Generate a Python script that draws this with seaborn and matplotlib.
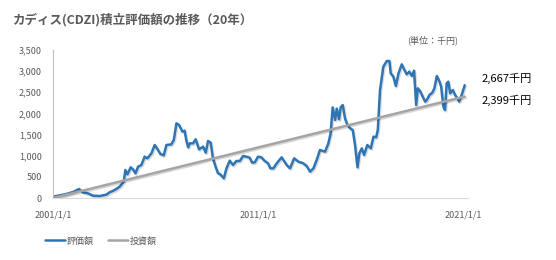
import numpy as np
import pandas as pd
import matplotlib
matplotlib.use("Agg")
import matplotlib.pyplot as plt
import matplotlib.patheffects as pe
import seaborn as sns
from matplotlib.lines import Line2D

# ---- data ----
title = "カディス(CDZI)積立評価額の推移（20年）"
unit_label = "(単位：千円)"
series_names = ["評価額", "投資額"]

value_years = [
    2001.00, 2001.33, 2001.65, 2001.98, 2002.27, 2002.46, 2002.71, 2002.95, 2003.28, 2003.60,
    2003.76, 2004.01, 2004.25, 2004.45, 2004.53, 2004.63, 2004.79, 2004.90, 2005.02, 2005.15,
    2005.31, 2005.47, 2005.60, 2005.80, 2005.96, 2006.07, 2006.24, 2006.40, 2006.53, 2006.77,
    2006.89, 2007.02, 2007.15, 2007.31, 2007.42, 2007.50, 2007.59, 2007.67, 2007.83, 2007.96,
    2008.12, 2008.20, 2008.32, 2008.45, 2008.56, 2008.69, 2008.80, 2008.93, 2009.05, 2009.16,
    2009.33, 2009.46, 2009.62, 2009.78, 2009.94, 2010.11, 2010.27, 2010.43, 2010.59, 2010.71,
    2010.84, 2011.00, 2011.16, 2011.33, 2011.49, 2011.60, 2011.75, 2011.91, 2012.15, 2012.40,
    2012.56, 2012.76, 2012.97, 2013.21, 2013.37, 2013.54, 2013.70, 2013.86, 2014.02, 2014.27,
    2014.43, 2014.54, 2014.64, 2014.76, 2014.84, 2014.95, 2015.03, 2015.13, 2015.24, 2015.36,
    2015.49, 2015.62, 2015.73, 2015.85, 2015.94, 2016.06, 2016.17, 2016.33, 2016.50, 2016.63,
    2016.76, 2016.84, 2016.95, 2017.11, 2017.28, 2017.41, 2017.47, 2017.60, 2017.72, 2017.85,
    2018.01, 2018.14, 2018.25, 2018.38, 2018.50, 2018.61, 2018.71, 2018.79, 2018.90, 2019.03,
    2019.15, 2019.23, 2019.36, 2019.50, 2019.60, 2019.72, 2019.85, 2019.93, 2020.04, 2020.12,
    2020.20, 2020.28, 2020.37, 2020.50, 2020.61, 2020.72, 2020.81, 2020.93, 2021.08,
]
values = [
    30, 63, 95, 142, 213, 134, 110, 55, 47, 79,
    134, 189, 268, 386, 662, 560, 725, 678, 583, 741,
    780, 978, 938, 1056, 1253, 1175, 1041, 1009, 1253, 1269,
    1372, 1766, 1726, 1569, 1592, 1372, 1198, 1293, 1293, 1388,
    1151, 1175, 1214, 1072, 1348, 1309, 938, 741, 583, 560,
    465, 702, 883, 780, 875, 875, 993, 978, 954, 836,
    844, 978, 962, 875, 820, 702, 702, 820, 962, 780,
    702, 938, 859, 820, 757, 623, 702, 899, 1135, 1096,
    1293, 1529, 2144, 1845, 2113, 1860, 2144, 2199, 1884, 1726,
    1648, 1608, 1253, 725, 1056, 1175, 1017, 1253, 1175, 1451,
    1435, 1608, 2554, 3106, 3240, 3240, 2948, 2870, 2649, 2948,
    3161, 3027, 2925, 2988, 2885, 3011, 2199, 2594, 2531, 2397,
    2278, 2318, 2436, 2491, 2594, 2885, 2751, 2633, 2160, 2081,
    2712, 2751, 2475, 2554, 2436, 2357, 2278, 2436, 2667,
]
invest_years = [2001.00, 2021.08]
invest_values = [0, 2399]

end_labels = ["2,667千円", "2,399千円"]
x_tick_labels = ["2001/1/1", "2011/1/1", "2021/1/1"]
y_ticks = [0, 500, 1000, 1500, 2000, 2500, 3000, 3500]


def to_date(years):
    years = np.asarray(years, dtype=float)
    base = pd.Timestamp("2001-01-01")
    return base + pd.to_timedelta((years - 2001.0) * 365.25, unit="D")


df_val = pd.DataFrame({"date": to_date(value_years), "value": values})
df_inv = pd.DataFrame({"date": to_date(invest_years), "value": invest_values})

# ---- style ----
sns.set_theme(style="white")
plt.rcParams["font.family"] = ["Noto Sans CJK JP", "DejaVu Sans"]

BLUE = "#2E75B6"
GRAY = "#A5A5A5"
TXT = "#595959"

fig = plt.figure(figsize=(5.56, 2.60), dpi=100)
ax = fig.add_axes([53 / 556, 1 - 198 / 260, (468 - 53) / 556, (198 - 50) / 260])

shadow = [pe.SimpleLineShadow(offset=(0.8, -1.0), shadow_color="#000000", alpha=0.15),
          pe.Normal()]
sns.lineplot(data=df_inv, x="date", y="value", ax=ax, color=GRAY, lw=1.8,
             label=series_names[1], legend=False, path_effects=shadow)
sns.lineplot(data=df_val, x="date", y="value", ax=ax, color=BLUE, lw=1.8,
             label=series_names[0], legend=False, path_effects=shadow)
ax.lines[0].set_zorder(3)
ax.lines[1].set_zorder(2)

ax.set_ylim(0, 3500)
ax.set_xlim(to_date([2001.0])[0], to_date([2021.24])[0])
ax.set_yticks(y_ticks)
ax.set_yticklabels([f"{v:,}" for v in y_ticks], color=TXT, fontsize=6.5)
xt = to_date([2001.0, 2011.0, 2021.0])
ax.set_xticks(xt)
ax.set_xticklabels(x_tick_labels, color=TXT, fontsize=6.5)
ax.set_xlabel("")
ax.set_ylabel("")

for s in ["top", "right"]:
    ax.spines[s].set_visible(False)
ax.spines["left"].set_color("#BFBFBF")
ax.spines["bottom"].set_color("#D9D9D9")
ax.spines["left"].set_linewidth(0.8)
ax.spines["bottom"].set_linewidth(0.8)
ax.tick_params(axis="y", length=0, pad=8)
ax.tick_params(axis="x", length=3, color="#D9D9D9", direction="out", pad=6)

# title and notes
fig.text(13 / 556, 1 - 20 / 260, title, fontsize=9, fontweight="bold", color=TXT,
         ha="left", va="center")
fig.text(433 / 556, 1 - 40 / 260, unit_label, fontsize=6.5, color=TXT,
         ha="center", va="center")
fig.text(482 / 556, 1 - 78 / 260, end_labels[0], fontsize=8, color="black",
         ha="left", va="center")
fig.text(482 / 556, 1 - 100 / 260, end_labels[1], fontsize=8, color="black",
         ha="left", va="center")

handles = [Line2D([0], [0], color=BLUE, lw=1.8), Line2D([0], [0], color=GRAY, lw=1.8)]
fig.legend(handles, series_names, loc="center left", bbox_to_anchor=(37 / 556, 1 - 241 / 260),
           ncol=2, frameon=False, fontsize=6.5, handlelength=2.2, handletextpad=0.2,
           columnspacing=1.6, labelcolor=TXT)

fig.savefig("out.png", dpi=100)
